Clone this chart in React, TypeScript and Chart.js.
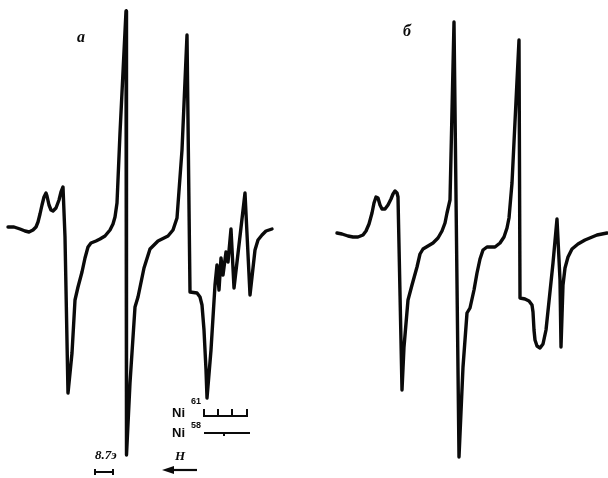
import React, { useEffect, useRef } from "react";
import { Chart, registerables } from "chart.js";

Chart.register(...registerables);

// Spectrum "а": magnetic field (arb. units) and derivative signal (arb. units)
const fieldA = [8, 14, 20, 25, 29, 33, 36, 38, 40, 42, 44, 46, 47, 49, 51, 53, 56, 59, 61, 63, 65, 68, 72, 75, 78, 82, 85, 88, 91, 96, 100, 105, 110, 113, 115, 117, 120, 126, 126.5, 130, 135, 138, 144, 150, 158, 168, 173, 177, 182, 187, 190, 197, 200, 202, 204, 206, 207, 211, 215, 217, 219, 221, 223, 226, 228, 231, 234, 245, 250, 255, 258, 262, 266, 272];
const signalA = [3, 3, 1, -1, -2, 0, 3, 8, 16, 25, 33, 37, 34, 25, 20, 19, 22, 30, 38, 43, -7, -163, -123, -70, -57, -42, -28, -17, -13, -11, -9, -6, 0, 6, 13, 27, 97, 219, -225, -153, -77, -67, -38, -19, -11, -6, 0, 12, 80, 195, -62, -63, -67, -75, -100, -140, -168, -120, -55, -35, -60, -28, -45, -22, -32, 1, -58, 37, -65, -20, -10, -5, -1, 1];

// Spectrum "б"
const fieldB = [337, 342, 348, 353, 358, 363, 366, 369, 372, 374, 376, 378, 380, 382, 385, 388, 391, 393, 395, 397, 398, 402, 404, 408, 412, 417, 420, 423, 428, 433, 438, 442, 445, 447, 450, 454, 459, 463, 467, 470, 474, 477, 480, 483, 487, 495, 500, 504, 507, 509, 512, 519, 520, 525, 529, 532, 533, 534, 535, 537, 540, 543, 546, 553, 557, 560, 561, 563, 565, 568, 572, 578, 585, 597, 607];
const signalB = [-3, -4, -6, -7, -7, -5, -1, 6, 17, 27, 33, 32, 25, 21, 21, 25, 31, 36, 39, 37, 33, -160, -117, -70, -55, -37, -24, -19, -16, -13, -8, -1, 7, 17, 30, 208, -227, -137, -83, -78, -60, -43, -29, -20, -17, -17, -13, -7, 2, 12, 47, 190, -68, -69, -71, -75, -82, -100, -110, -116, -118, -114, -100, -33, 11, -50, -117, -55, -38, -27, -19, -14, -10, -5, -3];

// Hyperfine stick diagrams
const ni61Lines = [204, 218, 232, 247];
const ni58Lines = [224];
const ni61Level = -186;
const ni58Level = -203;

// Scale bar and field direction arrow
const scaleBarField = [95, 113];
const scaleBarLevel = -242;
const arrowField = [162, 197];
const arrowLevel = -240;

const panelLabels = ["а", "б"];
const scaleText = "8.7э";
const fieldText = "H";

function combPoints(lines: number[], level: number, tick: number) {
  const pts: { x: number; y: number }[] = [];
  lines.forEach((x, i) => {
    if (i === 0) pts.push({ x, y: level + tick });
    pts.push({ x, y: level });
    if (i > 0) {
      pts.push({ x, y: level + tick });
      pts.push({ x, y: level });
    }
  });
  return pts;
}

const INK = "#0a0a0a";

export default function App() {
  const ref = useRef<HTMLCanvasElement | null>(null);

  useEffect(() => {
    const canvas = ref.current;
    if (!canvas) return;

    const ni61 = combPoints(ni61Lines, ni61Level, 7);
    const ni58 = [
      { x: 204, y: ni58Level },
      { x: ni58Lines[0], y: ni58Level },
      { x: ni58Lines[0], y: ni58Level - 3 },
      { x: ni58Lines[0], y: ni58Level },
      { x: 250, y: ni58Level },
    ];
    const bar = [
      { x: scaleBarField[0], y: scaleBarLevel + 3 },
      { x: scaleBarField[0], y: scaleBarLevel - 3 },
      { x: scaleBarField[0], y: scaleBarLevel },
      { x: scaleBarField[1], y: scaleBarLevel },
      { x: scaleBarField[1], y: scaleBarLevel + 3 },
      { x: scaleBarField[1], y: scaleBarLevel - 3 },
    ];
    const arrow = [
      { x: arrowField[0] + 6, y: arrowLevel },
      { x: arrowField[1], y: arrowLevel },
    ];

    const textPlugin = {
      id: "epr-text",
      afterDatasetsDraw(chart: any) {
        const { ctx, scales } = chart;
        const X = (v: number) => scales.x.getPixelForValue(v);
        const Y = (v: number) => scales.y.getPixelForValue(v);
        ctx.save();
        ctx.fillStyle = INK;
        ctx.textBaseline = "middle";
        ctx.textAlign = "left";
        ctx.font = "italic bold 16px 'Liberation Serif', serif";
        ctx.fillText(panelLabels[0], X(77), Y(192));
        ctx.fillText(panelLabels[1], X(403), Y(198));

        ctx.font = "bold 13px 'Liberation Sans', sans-serif";
        ctx.fillText("Ni", X(172), Y(-183));
        ctx.fillText("Ni", X(172), Y(-203));
        ctx.font = "bold 9px 'Liberation Sans', sans-serif";
        ctx.fillText("61", X(191), Y(-172));
        ctx.fillText("58", X(191), Y(-196));

        ctx.font = "italic bold 13px 'Liberation Serif', serif";
        ctx.fillText(fieldText, X(175), Y(-227));
        ctx.fillText(scaleText, X(95), Y(-226));

        // arrow head pointing to lower field
        const ax = X(arrowField[0]);
        const ay = Y(arrowLevel);
        ctx.beginPath();
        ctx.moveTo(ax, ay);
        ctx.lineTo(ax + 12, ay - 4);
        ctx.lineTo(ax + 12, ay + 4);
        ctx.closePath();
        ctx.fill();
        ctx.restore();
      },
    };

    const lineStyle = {
      borderColor: INK,
      pointRadius: 0,
      tension: 0,
      fill: false,
      borderJoinStyle: "round" as const,
      borderCapStyle: "round" as const,
    };

    const chart = new Chart(canvas, {
      type: "line",
      data: {
        datasets: [
          { ...lineStyle, label: "а", data: fieldA.map((x, i) => ({ x, y: signalA[i] })), borderWidth: 3.4 },
          { ...lineStyle, label: "б", data: fieldB.map((x, i) => ({ x, y: signalB[i] })), borderWidth: 3.4 },
          { ...lineStyle, label: "Ni61", data: ni61, borderWidth: 2, borderJoinStyle: "miter" as const, borderCapStyle: "butt" as const },
          { ...lineStyle, label: "Ni58", data: ni58, borderWidth: 2, borderJoinStyle: "miter" as const, borderCapStyle: "butt" as const },
          { ...lineStyle, label: "scale", data: bar, borderWidth: 2, borderJoinStyle: "miter" as const, borderCapStyle: "butt" as const },
          { ...lineStyle, label: "arrow", data: arrow, borderWidth: 2.2, borderCapStyle: "butt" as const },
        ],
      },
      options: {
        animation: false,
        responsive: false,
        parsing: false as any,
        layout: { padding: 0 },
        scales: {
          x: { type: "linear", min: 0, max: 608, display: false },
          y: { type: "linear", min: -248, max: 230, display: false },
        },
        plugins: {
          legend: { display: false },
          tooltip: { enabled: false },
        },
      },
      plugins: [textPlugin],
    });

    return () => chart.destroy();
  }, []);

  return (
    <div style={{ position: "absolute", left: 0, top: 0, width: 608, height: 478, background: "#fff" }}>
      <canvas ref={ref} width={608} height={478} style={{ display: "block" }} />
    </div>
  );
}
